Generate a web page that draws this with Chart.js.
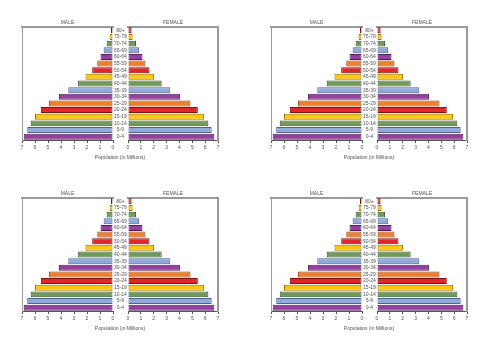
<!DOCTYPE html>
<html>
<head>
<meta charset="utf-8">
<script src="https://cdn.jsdelivr.net/npm/chart.js@4.4.1/dist/chart.umd.min.js"></script>
<style>
  html, body { margin: 0; padding: 0; background: #ffffff; }
  body { width: 500px; height: 353px; position: relative; overflow: hidden; }
  canvas { position: absolute; }
</style>
</head>
<body>
<script>
// ---- data (age groups from youngest to oldest) ----
const AGE_GROUPS = ['0-4','5-9','10-14','15-19','20-24','25-29','30-34','35-39','40-44','45-49','50-54','55-59','60-64','65-69','70-74','75-79','80+'];
const MALE_MILLIONS   = [6.87, 6.60, 6.33, 6.00, 5.55, 4.93, 4.16, 3.44, 2.71, 2.12, 1.60, 1.21, 0.96, 0.72, 0.49, 0.26, 0.16];
const FEMALE_MILLIONS = [6.72, 6.51, 6.25, 5.92, 5.43, 4.86, 4.04, 3.29, 2.62, 2.03, 1.67, 1.36, 1.13, 0.87, 0.62, 0.36, 0.28];
const X_TICKS_MAX = 7;
const MALE_TITLE = 'MALE';
const FEMALE_TITLE = 'FEMALE';
const AXIS_CAPTION = 'Population (in Millions)';

// ---- styles ----
const PALETTE = ['#93409f', '#8fa9d9', '#6f9a5a', '#ffc610', '#e2252b', '#ef7f2b'];
const PALETTE_EDGE = ['#4f1d5a', '#4f6390', '#3d5a30', '#9a7400', '#7f1010', '#8e4510'];
const barColors = AGE_GROUPS.map((_, i) => PALETTE[i % PALETTE.length]);
const barEdges = AGE_GROUPS.map((_, i) => PALETTE_EDGE[i % PALETTE_EDGE.length]);

const FONT_FAMILY = "'Liberation Sans Narrow', 'Liberation Sans', Arial, sans-serif";
const tinyFont = { family: FONT_FAMILY, size: 5, lineHeight: 1.2, weight: 'normal' };
const TEXT_COLOR = '#555555';
const FRAME_COLOR = '#9a9a9a';
const AXIS_COLOR = '#555555';

const CANVAS_W = 240, CANVAS_H = 148;
const PANELS = [
  { left: 0,   top: 14 },
  { left: 249, top: 14 },
  { left: 0,   top: 185 },
  { left: 249, top: 185 }
];

function makeCanvas(p) {
  const c = document.createElement('canvas');
  c.width = CANVAS_W; c.height = CANVAS_H;
  c.style.left = p.left + 'px'; c.style.top = p.top + 'px';
  c.style.width = CANVAS_W + 'px'; c.style.height = CANVAS_H + 'px';
  document.body.appendChild(c);
  return c;
}

const hiddenAxisBase = (pos, border) => ({
  type: 'linear', position: pos, min: 0, max: 1,
  ticks: { display: false },
  grid: { display: false, drawTicks: false },
  border: border
});

function xAxis(reverse) {
  return {
    type: 'linear', position: 'bottom', min: 0, max: X_TICKS_MAX, reverse: reverse,
    ticks: { stepSize: 1, font: tinyFont, color: TEXT_COLOR, padding: 2, maxRotation: 0, autoSkip: false },
    grid: { display: true, drawOnChartArea: false, drawTicks: true, tickLength: 3, color: AXIS_COLOR },
    border: { display: true, color: AXIS_COLOR, width: 1 }
  };
}

function titleOpts(text) {
  return { display: true, text: text, fullSize: false, font: tinyFont, color: TEXT_COLOR, padding: { top: 6, bottom: 1 } };
}

function dataset(values) {
  return {
    data: values,
    backgroundColor: barColors,
    borderColor: barEdges,
    borderWidth: 1,
    borderSkipped: false,
    barPercentage: 0.9,
    categoryPercentage: 1.0
  };
}

function maleChart(canvas) {
  return new Chart(canvas, {
    type: 'bar',
    data: { labels: AGE_GROUPS, datasets: [dataset(MALE_MILLIONS)] },
    options: {
      indexAxis: 'y', responsive: false, animation: false, devicePixelRatio: 1,
      layout: { padding: { left: 22, right: 22, top: 0, bottom: 0 } },
      plugins: {
        legend: { display: false }, tooltip: { enabled: false },
        title: titleOpts(MALE_TITLE),
        subtitle: { display: true, text: AXIS_CAPTION, position: 'bottom', fullSize: true, font: tinyFont, color: TEXT_COLOR, padding: { top: 2, bottom: 1 } }
      },
      scales: {
        x: xAxis(true),
        xTop: { type: 'linear', position: 'top', min: 0, max: X_TICKS_MAX, ticks: { display: false }, grid: { display: false, drawTicks: false }, border: { display: true, color: FRAME_COLOR, width: 2 } },
        y: {
          type: 'category', position: 'right', reverse: true, offset: true,
          ticks: { font: tinyFont, color: TEXT_COLOR, padding: 1, crossAlign: 'center', autoSkip: false },
          grid: { display: false, drawTicks: false },
          border: { display: false },
          afterFit: (scale) => { scale.width = 105; }
        },
        yLeft: hiddenAxisBase('left', { display: true, color: FRAME_COLOR, width: 1 })
      }
    }
  });
}

function femaleChart(canvas) {
  return new Chart(canvas, {
    type: 'bar',
    data: { labels: AGE_GROUPS, datasets: [dataset(FEMALE_MILLIONS)] },
    options: {
      indexAxis: 'y', responsive: false, animation: false, devicePixelRatio: 1,
      layout: { padding: { left: 128, right: 22, top: 0, bottom: 9 } },
      plugins: {
        legend: { display: false }, tooltip: { enabled: false },
        title: titleOpts(FEMALE_TITLE)
      },
      scales: {
        x: xAxis(false),
        xTop: { type: 'linear', position: 'top', min: 0, max: X_TICKS_MAX, ticks: { display: false }, grid: { display: false, drawTicks: false }, border: { display: true, color: FRAME_COLOR, width: 2 } },
        y: { type: 'category', display: false, reverse: true, offset: true },
        yRight: hiddenAxisBase('right', { display: true, color: FRAME_COLOR, width: 2 })
      }
    }
  });
}

PANELS.forEach(p => {
  maleChart(makeCanvas(p));
  femaleChart(makeCanvas(p));
});
</script>
</body>
</html>
